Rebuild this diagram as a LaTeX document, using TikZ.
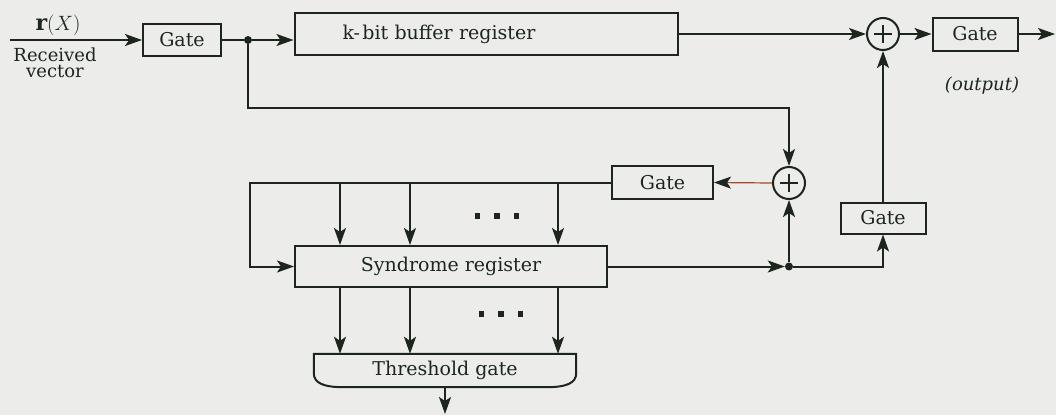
\documentclass[tikz,border=0pt]{standalone}
\usepackage{fontspec}
\setmainfont{DejaVu Serif}
\usetikzlibrary{arrows.meta,calc}
\definecolor{bgc}{RGB}{236,237,235}
\definecolor{ink}{RGB}{28,38,28}
\definecolor{feedc}{RGB}{165,70,45}
\tikzset{
  box/.style={draw=ink, line width=2pt, rectangle, inner sep=0pt, text=ink,
    font=\fontsize{19}{22}\selectfont},
  xor/.style={draw=ink, line width=2pt, circle, minimum size=32pt, inner sep=0pt,
    path picture={\draw[ink, line width=1.8pt]
      ([xshift=-9pt]path picture bounding box.center) -- ([xshift=9pt]path picture bounding box.center)
      ([yshift=-9pt]path picture bounding box.center) -- ([yshift=9pt]path picture bounding box.center);}},
  wire/.style={draw=ink, line width=2pt},
  conn/.style={wire, -{Stealth[length=17pt,width=12pt,inset=4pt]}},
  joint/.style={circle, fill=ink, inner sep=0pt, minimum size=8pt},
  dotrow/.style={inner sep=0pt, text=ink},
}
\newcommand{\blk}{\rule{5.5pt}{5.5pt}}
\begin{document}
\begin{tikzpicture}[x=1pt,y=-1pt]
\useasboundingbox (0,0) rectangle (1056,415);
\fill[bgc] (0,0) rectangle (1056,415);

% input stage
\coordinate (in) at (10,40);
\node[box, minimum width=78pt, minimum height=32pt] (g1) at (182,40) {Gate};
\node[text=ink, font=\fontsize{22}{24}\selectfont] (rx) at (58,25) {$\mathbf{r}(X)$};
\node[text=ink, align=center, inner sep=0pt, font=\fontsize{18}{16}\selectfont] (rv) at (55,63) {Received\\vector};
\node[joint] (d1) at (248,40) {};

% buffer path
\node[box, minimum width=383pt, minimum height=42pt, text width=287pt, inner xsep=48pt, align=left]
  (buf) at (486,34) {k-\hspace{0.12em}bit buffer register};
\node[xor] (x1) at (883,34) {};
\node[box, minimum width=85pt, minimum height=33pt] (g3) at (975,34) {Gate};
\coordinate (out) at (1055,34);
\node[text=ink, font=\fontsize{18}{20}\selectfont\itshape] (olbl) at (982,86) {(output)};

% syndrome loop
\node[xor] (x2) at (789,183) {};
\node[box, minimum width=101pt, minimum height=33pt] (g2) at (662.5,182.5) {Gate};
\node[box, minimum width=312pt, minimum height=41pt] (syn) at (451,266.5) {Syndrome register};
\node[joint] (d2) at (789,266.5) {};
\node[box, minimum width=85pt, minimum height=31pt] (g4) at (883,218) {Gate};
\coordinate (fb) at (520,108);
\coordinate (lc) at (250,182.5);
\coordinate (t1) at (340,0);
\coordinate (t2) at (410,0);
\coordinate (t3) at (558,0);

% threshold gate
\node[text=ink, inner sep=0pt, minimum width=262pt, minimum height=33pt,
  font=\fontsize{19}{22}\selectfont] (thr) at (445,370.5) {Threshold gate};
\draw[ink, line width=2pt] (thr.north west) -- ([yshift=14pt]thr.south west)
  .. controls ([yshift=4pt]thr.south west) and ([xshift=10pt]thr.south west) .. ([xshift=30pt]thr.south west)
  -- ([xshift=-30pt]thr.south east)
  .. controls ([xshift=-10pt]thr.south east) and ([yshift=4pt]thr.south east) .. ([yshift=14pt]thr.south east)
  -- (thr.north east) -- cycle;
\coordinate (tout) at (445,414);

\node[dotrow] (dots1) at (497,216) {\blk\hspace{14pt}\blk\hspace{14pt}\blk};
\node[dotrow] (dots2) at (501,314) {\blk\hspace{14pt}\blk\hspace{14pt}\blk};

% connectors
\draw[conn] (in) -- (g1.west);
\draw[wire] (g1.east) -- (d1);
\draw[conn] (d1) -- (buf.west |- d1);
\draw[conn] (buf.east |- x1) -- (x1.west);
\draw[conn] (x1.east) -- (g3.west);
\draw[conn] (g3.east) -- (out);
\draw[conn] (d1) |- (fb) -| (x2.north);
\draw[draw=feedc, line width=1.2pt, -{Stealth[length=17pt,width=12pt,inset=4pt,color=ink]}] (x2.west) -- (g2.east);
\draw[conn] (g2.west) -- (lc) |- (syn.west);
\foreach \t in {t1,t2,t3} {
  \draw[conn] (lc -| \t) -- (syn.north -| \t);
  \draw[conn] (syn.south -| \t) -- (thr.north -| \t);
}
\draw[conn] (syn.east) -- (d2.west);
\draw[conn] (d2) -- (x2.south);
\draw[conn] (d2) -| (g4.south);
\draw[conn] (g4.north) -- (x1.south);
\draw[conn] ([yshift=-1pt]thr.south) -- (tout);
\end{tikzpicture}
\end{document}
